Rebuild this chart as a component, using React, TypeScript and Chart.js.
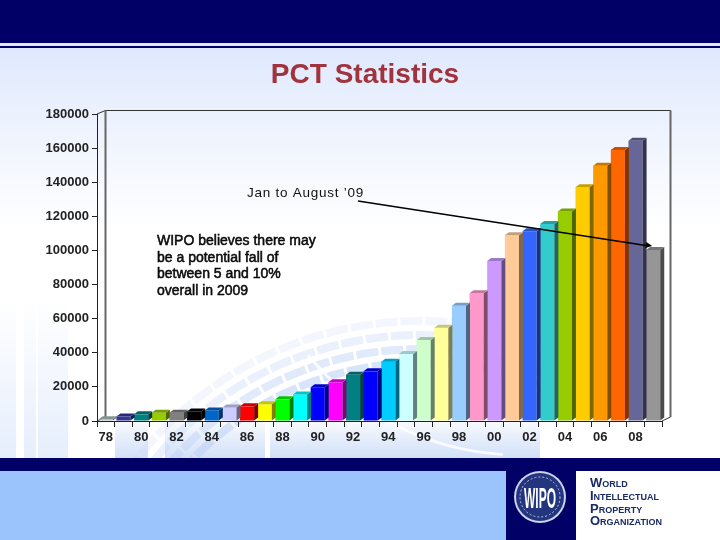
import { useEffect, useRef } from 'react';
import { Chart, registerables } from 'chart.js';
import type { Plugin } from 'chart.js';

Chart.register(...registerables);

const years = ['78', '79', '80', '81', '82', '83', '84', '85', '86', '87', '88', '89', '90', '91', '92', '93',
  '94', '95', '96', '97', '98', '99', '00', '01', '02', '03', '04', '05', '06', '07', '08', '09'];
const filings = [1000, 2600, 3900, 4800, 4900, 5600, 6200, 7900, 8600, 9800, 12700, 15600, 19800, 22700, 27100, 29100,
  34800, 39300, 47500, 54700, 67600, 74900, 93800, 108900, 111200, 115500, 122900, 137000, 149700, 158900, 164300, 100300];
const barColors = ['#a9bcbc', '#333399', '#008080', '#99cc00', '#808080', '#000000', '#0066cc', '#ccccff',
  '#ff0000', '#ffff00', '#00ff00', '#00ffff', '#0000ff', '#ff00ff', '#008080', '#0000ff',
  '#00ccff', '#ccffff', '#ccffcc', '#ffff99', '#99ccff', '#ff99cc', '#cc99ff', '#ffcc99',
  '#3366ff', '#33cccc', '#99cc00', '#ffcc00', '#ff9900', '#ff6600', '#666699', '#969696'];
const noteLines = ['WIPO believes there may', 'be a potential fall of', 'between 5 and 10%', 'overall in 2009'];
const orgLines = ['World', 'Intellectual', 'Property', 'Organization'];

const NAVY = '#000066';

// darken a #rrggbb colour for the side and top faces of a bar
const shade = (hex: string, f: number) => {
  const n = parseInt(hex.slice(1), 16);
  const r = Math.round(((n >> 16) & 255) * f);
  const g = Math.round(((n >> 8) & 255) * f);
  const b = Math.round((n & 255) * f);
  return `rgb(${r},${g},${b})`;
};

// slide artwork behind the chart
const slidePlugin: Plugin<'bar'> = {
  id: 'slide',
  beforeDraw(chart) {
    const ctx = chart.ctx;
    ctx.save();
    const bg = ctx.createLinearGradient(0, 48, 0, 230);
    bg.addColorStop(0, '#dfe8fd');
    bg.addColorStop(0.35, '#ebf1fd');
    bg.addColorStop(1, '#ffffff');
    ctx.fillStyle = bg;
    ctx.fillRect(0, 0, 720, 540);

    // pale stripes bottom left
    const fade = ctx.createLinearGradient(0, 300, 0, 458);
    fade.addColorStop(0, 'rgba(205,222,250,0)');
    fade.addColorStop(1, 'rgba(205,222,250,0.5)');
    ctx.fillStyle = fade;
    ctx.fillRect(0, 300, 16, 158);
    ctx.fillRect(24, 300, 12, 158);
    ctx.fillRect(38, 300, 30, 158);
    const low = ctx.createLinearGradient(0, 415, 0, 458);
    low.addColorStop(0, 'rgba(190,210,245,0)');
    low.addColorStop(1, 'rgba(190,210,245,0.7)');
    ctx.fillStyle = low;
    ctx.fillRect(115, 415, 33, 43);
    ctx.fillRect(165, 415, 100, 43);
    ctx.fillRect(270, 415, 225, 43);
    ctx.fillRect(495, 415, 45, 43);

    // concentric arcs
    ctx.lineCap = 'butt';
    const radii = [317, 331, 345, 359];
    radii.forEach((r, i) => {
      ctx.strokeStyle = `rgba(190,210,245,${0.6 - i * 0.14})`;
      ctx.lineWidth = 8;
      ctx.setLineDash([22, 3]);
      ctx.beginPath();
      ctx.arc(420, 680, r, Math.PI * 1.15, Math.PI * 1.62);
      ctx.stroke();
    });
    ctx.setLineDash([]);
    ctx.strokeStyle = 'rgba(255,255,255,0.8)';
    ctx.lineWidth = 3;
    ctx.beginPath();
    ctx.arc(520, 180, 275, Math.PI * 0.52, Math.PI * 0.78);
    ctx.stroke();

    // header
    ctx.fillStyle = '#dfe8fd';
    ctx.fillRect(0, 0, 720, 50);
    ctx.fillStyle = NAVY;
    ctx.fillRect(0, 0, 720, 43);
    ctx.fillRect(0, 46, 720, 2);

    // footer
    ctx.fillStyle = '#9cc4fc';
    ctx.fillRect(0, 471, 506, 69);
    ctx.fillStyle = '#ffffff';
    ctx.fillRect(575, 471, 145, 69);
    ctx.fillStyle = NAVY;
    ctx.fillRect(0, 458, 720, 13);
    ctx.fillRect(506, 471, 70, 69);

    // logo
    ctx.fillStyle = '#c9d3ea';
    ctx.beginPath();
    ctx.arc(540, 497, 26, 0, Math.PI * 2);
    ctx.fill();
    ctx.fillStyle = '#24357f';
    ctx.beginPath();
    ctx.arc(540, 497, 24, 0, Math.PI * 2);
    ctx.fill();
    ctx.strokeStyle = '#b9c5e2';
    ctx.lineWidth = 1;
    ctx.setLineDash([2, 2]);
    ctx.beginPath();
    ctx.arc(540, 497, 20, 0, Math.PI * 2);
    ctx.stroke();
    ctx.setLineDash([]);
    ctx.translate(540, 508);
    ctx.scale(0.5, 1.25);
    ctx.fillStyle = '#ffffff';
    ctx.font = 'bold 24px "Liberation Sans"';
    ctx.textAlign = 'center';
    ctx.fillText('WIPO', 0, 0);
    ctx.setTransform(chart.currentDevicePixelRatio, 0, 0, chart.currentDevicePixelRatio, 0, 0);

    // organisation name
    ctx.textAlign = 'left';
    ctx.fillStyle = '#1a2a66';
    ctx.font = 'bold 13px "Liberation Sans"';
    (ctx as any).fontVariantCaps = 'small-caps';
    orgLines.forEach((line, i) => ctx.fillText(line, 590, 487 + i * 12.8));
    (ctx as any).fontVariantCaps = 'normal';

    // slide title
    ctx.fillStyle = '#a0333c';
    ctx.font = 'bold 28px "Liberation Sans"';
    ctx.textAlign = 'center';
    ctx.fillText('PCT Statistics', 365, 83);
    ctx.restore();
  },
  // back wall of the 3D box
  beforeDatasetsDraw(chart) {
    const { ctx, chartArea: a } = chart;
    ctx.save();
    ctx.strokeStyle = '#333';
    ctx.lineWidth = 1;
    ctx.beginPath();
    ctx.moveTo(a.left, a.top);
    ctx.lineTo(a.left + 8.5, a.top - 3.5);
    ctx.lineTo(a.right + 8.5, a.top - 3.5);
    ctx.lineTo(a.right + 8.5, a.bottom - 4);
    ctx.lineTo(a.right, a.bottom);
    ctx.moveTo(a.left, a.bottom);
    ctx.lineTo(a.left + 8.5, a.bottom - 4);
    ctx.stroke();
    ctx.lineWidth = 2;
    ctx.strokeStyle = '#666';
    ctx.beginPath();
    ctx.moveTo(a.left + 8.5, a.top - 3.5);
    ctx.lineTo(a.left + 8.5, a.bottom - 4);
    ctx.moveTo(a.right + 8.5, a.top - 3.5);
    ctx.lineTo(a.right + 8.5, a.bottom - 4);
    ctx.stroke();
    ctx.restore();
  },
  // side and top faces of the bars, then the notes and arrow
  afterDatasetsDraw(chart) {
    const { ctx, scales } = chart;
    const dx = 4;
    const dy = 3;
    ctx.save();
    chart.getDatasetMeta(0).data.forEach((bar: any, i) => {
      const { x, y, base, width } = bar.getProps(['x', 'y', 'base', 'width'], true);
      const right = x + width / 2;
      const left = x - width / 2;
      ctx.fillStyle = shade(barColors[i], 0.5);
      ctx.beginPath();
      ctx.moveTo(right, y);
      ctx.lineTo(right + dx, y - dy);
      ctx.lineTo(right + dx, base - dy);
      ctx.lineTo(right, base);
      ctx.closePath();
      ctx.fill();
      ctx.fillStyle = shade(barColors[i], 0.78);
      ctx.beginPath();
      ctx.moveTo(left, y);
      ctx.lineTo(left + dx, y - dy);
      ctx.lineTo(right + dx, y - dy);
      ctx.lineTo(right, y);
      ctx.closePath();
      ctx.fill();
    });

    // Jan to August label and its arrow
    const x0 = scales.x.getPixelForValue(14.28);
    const y0 = scales.y.getPixelForValue(129000);
    const x1 = scales.x.getPixelForValue(30.94);
    const y1 = scales.y.getPixelForValue(102600);
    const angle = Math.atan2(y1 - y0, x1 - x0);
    ctx.strokeStyle = '#000';
    ctx.fillStyle = '#000';
    ctx.lineWidth = 1.4;
    ctx.beginPath();
    ctx.moveTo(x0, y0);
    ctx.lineTo(x1 - 3, y1);
    ctx.stroke();
    ctx.beginPath();
    ctx.moveTo(x1, y1);
    ctx.lineTo(x1 - 7 * Math.cos(angle - 0.45), y1 - 7 * Math.sin(angle - 0.45));
    ctx.lineTo(x1 - 7 * Math.cos(angle + 0.45), y1 - 7 * Math.sin(angle + 0.45));
    ctx.closePath();
    ctx.fill();

    ctx.textAlign = 'left';
    ctx.fillStyle = '#111';
    ctx.font = '13.5px "Liberation Sans"';
    (ctx as any).letterSpacing = '0.75px';
    ctx.fillText('Jan to August ’09', 247, 197);
    (ctx as any).letterSpacing = '0px';

    ctx.strokeStyle = '#000';
    ctx.lineWidth = 0.5;
    ctx.font = '14px "Liberation Sans"';
    noteLines.forEach((line, i) => {
      const yy = 245 + i * 16.6;
      ctx.fillText(line, 157, yy);
      ctx.strokeText(line, 157, yy);
    });
    ctx.restore();
  },
};

export default function App() {
  const canvasRef = useRef<HTMLCanvasElement | null>(null);

  useEffect(() => {
    document.body.style.margin = '0';
    const canvas = canvasRef.current;
    if (!canvas) return;

    const chart = new Chart(canvas, {
      type: 'bar',
      data: {
        labels: years,
        datasets: [
          {
            label: 'PCT filings',
            data: filings,
            backgroundColor: barColors,
            borderWidth: 0,
            barPercentage: 0.8,
            categoryPercentage: 1,
          },
        ],
      },
      options: {
        responsive: false,
        animation: false,
        layout: { padding: { top: 114, right: 58, bottom: 79, left: 0 } },
        plugins: {
          legend: { display: false },
          title: { display: false },
          tooltip: { enabled: false },
        },
        scales: {
          x: {
            afterFit: (scale) => {
              scale.height = 40;
            },
            grid: { drawOnChartArea: false, color: '#222', tickLength: 6 },
            border: { color: '#222' },
            ticks: {
              autoSkip: false,
              maxRotation: 0,
              padding: 3,
              color: '#222',
              font: { family: '"Liberation Sans"', size: 13, weight: 'bold' },
              callback: (_v, i) => (i % 2 === 0 ? years[i] : ''),
            },
          },
          y: {
            min: 0,
            max: 180000,
            afterFit: (scale) => {
              scale.width = 97;
            },
            grid: { drawOnChartArea: false, color: '#222', tickLength: 5 },
            border: { color: '#222' },
            ticks: {
              stepSize: 20000,
              padding: 3,
              color: '#222',
              font: { family: '"Liberation Sans"', size: 13, weight: 'bold' },
              callback: (v) => String(v),
            },
          },
        },
      },
      plugins: [slidePlugin],
    });

    return () => {
      chart.destroy();
    };
  }, []);

  return (
    <div style={{ width: 720, height: 540 }}>
      <canvas ref={canvasRef} width={720} height={540} style={{ display: 'block' }} />
    </div>
  );
}
